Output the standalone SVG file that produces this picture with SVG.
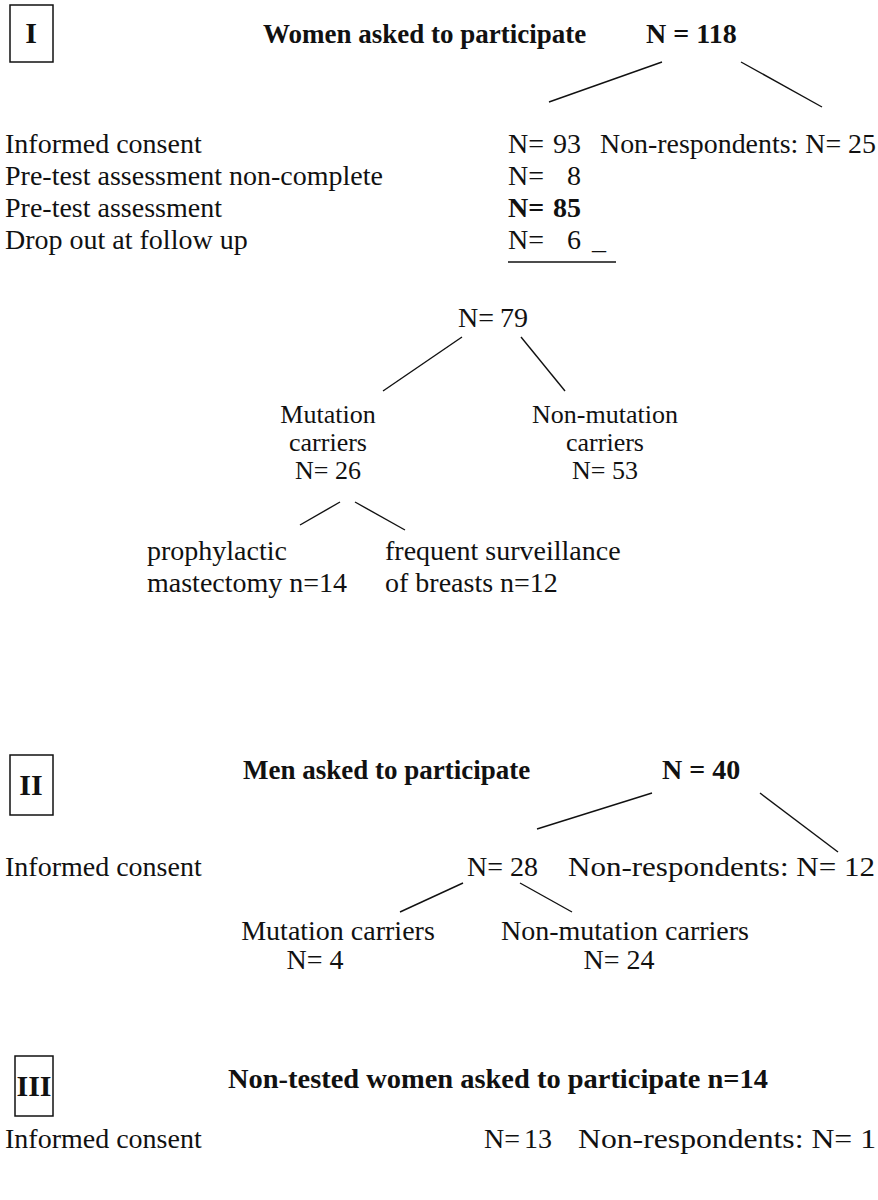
<svg xmlns="http://www.w3.org/2000/svg" width="878" height="1200" viewBox="0 0 878 1200">
<style>
text{font-family:"Liberation Serif","Times New Roman",serif;font-size:28px;fill:#111}
.b{font-weight:bold}
.h{font-weight:bold;font-size:27px}
.m{text-anchor:middle}
.e{text-anchor:end}
.s{font-size:26px}
.box{fill:none;stroke:#111;stroke-width:1.5}
.ln{stroke:#111;stroke-width:1.4;fill:none}
.rn{font-weight:bold;font-size:30px;text-anchor:middle}
</style>
<g id="section1">
  <g id="boxI"><rect class="box" x="10" y="5" width="43" height="57"/><text class="rn" x="31" y="43">I</text></g>
  <g id="women"><text class="h" x="263" y="43">Women asked to participate</text><text class="b" x="646" y="43">N = 118</text></g>
  <g id="rows1">
    <text x="5" y="153">Informed consent</text>
    <text x="508" y="153">N=</text><text class="e" x="581" y="153">93</text>
    <text x="600" y="153" textLength="276" lengthAdjust="spacingAndGlyphs">Non-respondents: N= 25</text>
    <text x="5" y="185">Pre-test assessment non-complete</text>
    <text x="508" y="185">N=</text><text class="e" x="581" y="185">8</text>
    <text x="5" y="217">Pre-test assessment</text>
    <text class="b" x="508" y="217">N=</text><text class="b e" x="581" y="217">85</text>
    <text x="5" y="249">Drop out at follow up</text>
    <text x="508" y="249">N=</text><text class="e" x="581" y="249">6</text>
    <text x="592" y="249">_</text>
  </g>
  <g id="n79"><text x="458" y="327">N=</text><text class="e" x="528" y="327">79</text></g>
  <g id="mut1"><text class="m s" x="328" y="423">Mutation</text><text class="m s" x="328" y="451">carriers</text><text class="m s" x="328" y="479">N= 26</text></g>
  <g id="nonmut1"><text class="m s" x="605" y="423">Non-mutation</text><text class="m s" x="605" y="451">carriers</text><text class="m s" x="605" y="479">N= 53</text></g>
  <g id="proph"><text x="147" y="560">prophylactic</text><text x="147" y="592">mastectomy  n=14</text></g>
  <g id="freq"><text x="385" y="560">frequent surveillance</text><text x="385" y="592">of breasts  n=12</text></g>
</g>
<g id="section2">
  <g id="boxII"><rect class="box" x="10" y="755" width="43" height="60"/><text class="rn" x="31" y="795">II</text></g>
  <g id="men"><text class="h" x="243" y="779">Men asked to participate</text><text class="b" x="662" y="779">N = 40</text></g>
  <g id="rows2">
    <text x="5" y="876">Informed consent</text>
    <text x="467" y="876">N= 28</text>
    <text x="568" y="876" textLength="307" lengthAdjust="spacingAndGlyphs">Non-respondents: N= 12</text>
  </g>
  <g id="mut2"><text class="m" x="338" y="940">Mutation carriers</text><text class="m" x="315" y="969">N= 4</text></g>
  <g id="nonmut2"><text class="m" x="625" y="940">Non-mutation carriers</text><text class="m" x="619" y="969">N= 24</text></g>
</g>
<g id="section3">
  <g id="boxIII"><rect class="box" x="15" y="1056" width="38" height="60"/><text class="rn" x="34" y="1096">III</text></g>
  <g id="nontested"><text class="h" x="228" y="1088" textLength="540" lengthAdjust="spacingAndGlyphs">Non-tested women asked to participate n=14</text></g>
  <g id="rows3">
    <text x="5" y="1148">Informed consent</text>
    <text x="484" y="1148">N=</text><text class="e" x="552" y="1148">13</text>
    <text x="578" y="1148" textLength="298" lengthAdjust="spacingAndGlyphs">Non-respondents: N= 1</text>
  </g>
</g>
<g id="connectors">
  <line class="ln" x1="662" y1="62" x2="549" y2="102"/>
  <line class="ln" x1="741" y1="62" x2="822" y2="107"/>
  <line class="ln" x1="508" y1="262" x2="616" y2="262"/>
  <line class="ln" x1="462" y1="337" x2="383" y2="391"/>
  <line class="ln" x1="521" y1="337" x2="565" y2="391"/>
  <line class="ln" x1="340" y1="502" x2="300" y2="525"/>
  <line class="ln" x1="355" y1="502" x2="405" y2="530"/>
  <line class="ln" x1="652" y1="793" x2="537" y2="829"/>
  <line class="ln" x1="760" y1="793" x2="838" y2="852"/>
  <line class="ln" x1="463" y1="883" x2="400" y2="912"/>
  <line class="ln" x1="520" y1="883" x2="572" y2="912"/>
</g>
</svg>
